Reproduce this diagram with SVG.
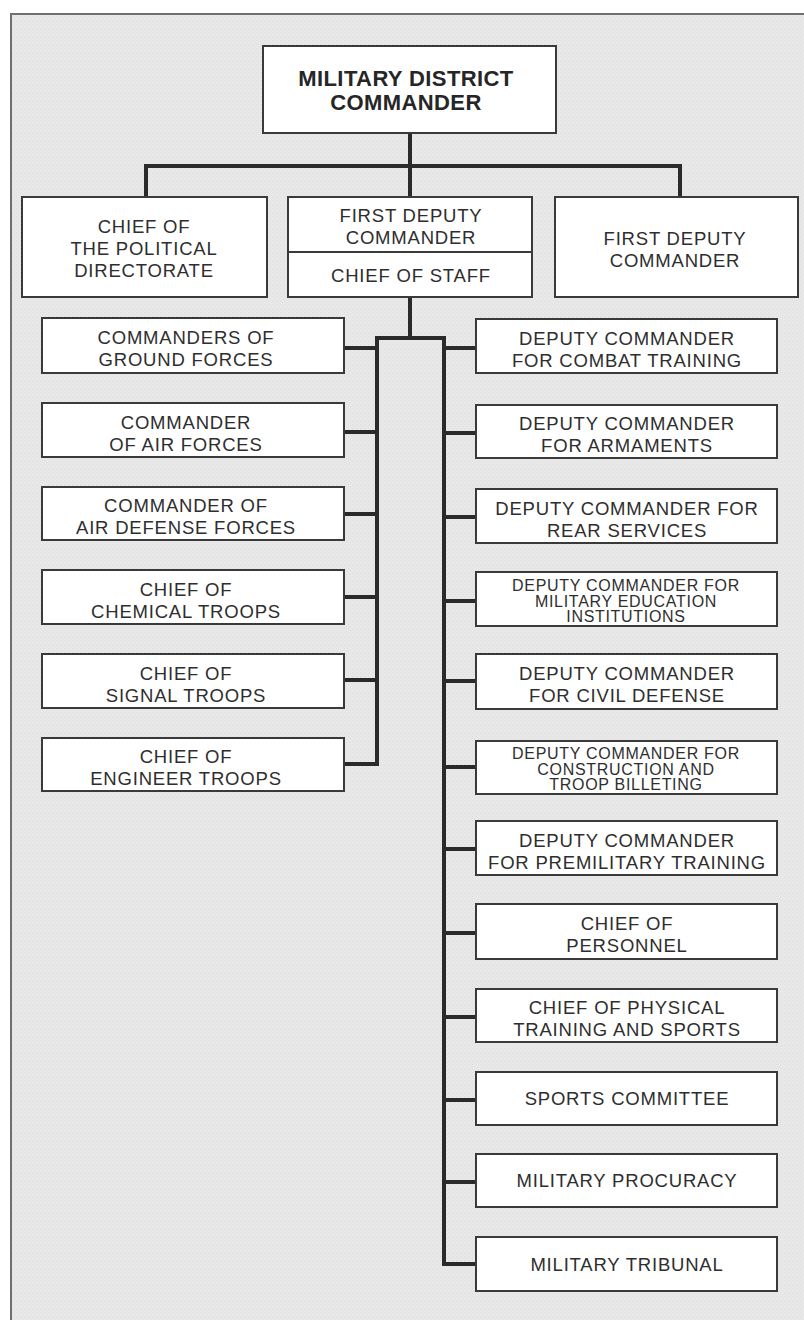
<svg xmlns="http://www.w3.org/2000/svg" width="804" height="1320" viewBox="0 0 804 1320">
<defs>
<pattern id="tex" width="4" height="4" patternUnits="userSpaceOnUse">
<rect width="4" height="4" fill="#e8e8e8"/>
<rect x="0" y="0" width="1" height="1" fill="#dcdcdc"/>
<rect x="2" y="2" width="1" height="1" fill="#dedede"/>
</pattern>
</defs>
<style>
.box{fill:#ffffff;stroke:#3a3a3a;stroke-width:2}
.t{font-family:"Liberation Sans",Arial,Helvetica,sans-serif;font-size:18.5px;letter-spacing:0.8px;fill:#2e2e2e;text-anchor:middle}
.s{font-family:"Liberation Sans",Arial,Helvetica,sans-serif;font-size:16px;letter-spacing:0.7px;fill:#2e2e2e;text-anchor:middle}
.b{font-family:"Liberation Sans",Arial,Helvetica,sans-serif;font-size:22px;font-weight:bold;letter-spacing:0.4px;fill:#262626;text-anchor:middle}
.c{fill:none;stroke:#2a2a2a;stroke-width:4;stroke-linejoin:miter;stroke-linecap:square}
</style>
<rect x="0" y="0" width="804" height="1320" fill="#ffffff"/>
<rect x="11" y="14" width="800" height="1320" fill="url(#tex)" stroke="#707070" stroke-width="2"/>

<g id="connectors">
<path class="c" d="M410 133 V166"/>
<path class="c" d="M146 197 V166 H680 V197"/>
<path class="c" d="M410 166 V197"/>
<path class="c" d="M410 297 V338"/>
<path class="c" d="M377 764 V338 H444 V1264 H476"/>
<path class="c" d="M344 348 H377 M344 432 H377 M344 514 H377 M344 597 H377 M344 680 H377 M344 764 H377"/>
<path class="c" d="M444 348 H476 M444 433 H476 M444 517 H476 M444 601 H476 M444 681 H476 M444 767 H476 M444 849 H476 M444 933 H476 M444 1017 H476 M444 1100 H476 M444 1182 H476"/>
</g>

<g id="n-commander">
<rect class="box" x="263" y="46" width="293" height="87"/>
<text class="b" x="406" y="86">MILITARY DISTRICT</text>
<text class="b" x="406" y="110">COMMANDER</text>
</g>

<g id="n-political">
<rect class="box" x="22" y="197" width="245" height="100"/>
<text class="t" x="144" y="233">CHIEF OF</text>
<text class="t" x="144" y="255">THE POLITICAL</text>
<text class="t" x="144" y="277">DIRECTORATE</text>
</g>

<g id="n-first-deputy-staff">
<rect class="box" x="288" y="197" width="244" height="100"/>
<line x1="288" y1="252" x2="532" y2="252" stroke="#3a3a3a" stroke-width="2"/>
<text class="t" x="411" y="222">FIRST DEPUTY</text>
<text class="t" x="411" y="244">COMMANDER</text>
<text class="t" x="411" y="282">CHIEF OF STAFF</text>
</g>

<g id="n-first-deputy">
<rect class="box" x="555" y="197" width="243" height="100"/>
<text class="t" x="675" y="245">FIRST DEPUTY</text>
<text class="t" x="675" y="267">COMMANDER</text>
</g>

<g id="n-ground">
<rect class="box" x="42" y="318" width="302" height="55"/>
<text class="t" x="186" y="344">COMMANDERS OF</text>
<text class="t" x="186" y="366">GROUND FORCES</text>
</g>
<g id="n-air">
<rect class="box" x="42" y="403" width="302" height="54"/>
<text class="t" x="186" y="428.5">COMMANDER</text>
<text class="t" x="186" y="450.5">OF AIR FORCES</text>
</g>
<g id="n-airdef">
<rect class="box" x="42" y="487" width="302" height="53"/>
<text class="t" x="186" y="512">COMMANDER OF</text>
<text class="t" x="186" y="534">AIR DEFENSE FORCES</text>
</g>
<g id="n-chem">
<rect class="box" x="42" y="570" width="302" height="54"/>
<text class="t" x="186" y="595.5">CHIEF OF</text>
<text class="t" x="186" y="617.5">CHEMICAL TROOPS</text>
</g>
<g id="n-signal">
<rect class="box" x="42" y="654" width="302" height="54"/>
<text class="t" x="186" y="679.5">CHIEF OF</text>
<text class="t" x="186" y="701.5">SIGNAL TROOPS</text>
</g>
<g id="n-engineer">
<rect class="box" x="42" y="738" width="302" height="53"/>
<text class="t" x="186" y="763">CHIEF OF</text>
<text class="t" x="186" y="785">ENGINEER TROOPS</text>
</g>

<g id="n-combat">
<rect class="box" x="476" y="319" width="301" height="54"/>
<text class="t" x="627" y="344.5">DEPUTY COMMANDER</text>
<text class="t" x="627" y="366.5">FOR COMBAT TRAINING</text>
</g>
<g id="n-armaments">
<rect class="box" x="476" y="405" width="301" height="53"/>
<text class="t" x="627" y="430">DEPUTY COMMANDER</text>
<text class="t" x="627" y="452">FOR ARMAMENTS</text>
</g>
<g id="n-rear">
<rect class="box" x="476" y="489" width="301" height="54"/>
<text class="t" x="627" y="514.5">DEPUTY COMMANDER FOR</text>
<text class="t" x="627" y="536.5">REAR SERVICES</text>
</g>
<g id="n-mil-ed">
<rect class="box" x="476" y="572" width="301" height="54"/>
<text class="s" x="626" y="591">DEPUTY COMMANDER FOR</text>
<text class="s" x="626" y="606.5">MILITARY EDUCATION</text>
<text class="s" x="626" y="622">INSTITUTIONS</text>
</g>
<g id="n-civil">
<rect class="box" x="476" y="654" width="301" height="55"/>
<text class="t" x="627" y="680">DEPUTY COMMANDER</text>
<text class="t" x="627" y="702">FOR CIVIL DEFENSE</text>
</g>
<g id="n-construction">
<rect class="box" x="476" y="741" width="301" height="53"/>
<text class="s" x="626" y="759">DEPUTY COMMANDER FOR</text>
<text class="s" x="626" y="774.5">CONSTRUCTION AND</text>
<text class="s" x="626" y="790">TROOP BILLETING</text>
</g>
<g id="n-premilitary">
<rect class="box" x="476" y="821" width="301" height="54"/>
<text class="t" x="627" y="846.5">DEPUTY COMMANDER</text>
<text class="t" x="627" y="868.5">FOR PREMILITARY TRAINING</text>
</g>
<g id="n-personnel">
<rect class="box" x="476" y="904" width="301" height="55"/>
<text class="t" x="627" y="930">CHIEF OF</text>
<text class="t" x="627" y="952">PERSONNEL</text>
</g>
<g id="n-physical">
<rect class="box" x="476" y="989" width="301" height="53"/>
<text class="t" x="627" y="1014">CHIEF OF PHYSICAL</text>
<text class="t" x="627" y="1036">TRAINING AND SPORTS</text>
</g>
<g id="n-sports">
<rect class="box" x="476" y="1072" width="301" height="53"/>
<text class="t" x="627" y="1105">SPORTS COMMITTEE</text>
</g>
<g id="n-procuracy">
<rect class="box" x="476" y="1154" width="301" height="53"/>
<text class="t" x="627" y="1187">MILITARY PROCURACY</text>
</g>
<g id="n-tribunal">
<rect class="box" x="476" y="1237" width="301" height="54"/>
<text class="t" x="627" y="1270.5">MILITARY TRIBUNAL</text>
</g>
</svg>
